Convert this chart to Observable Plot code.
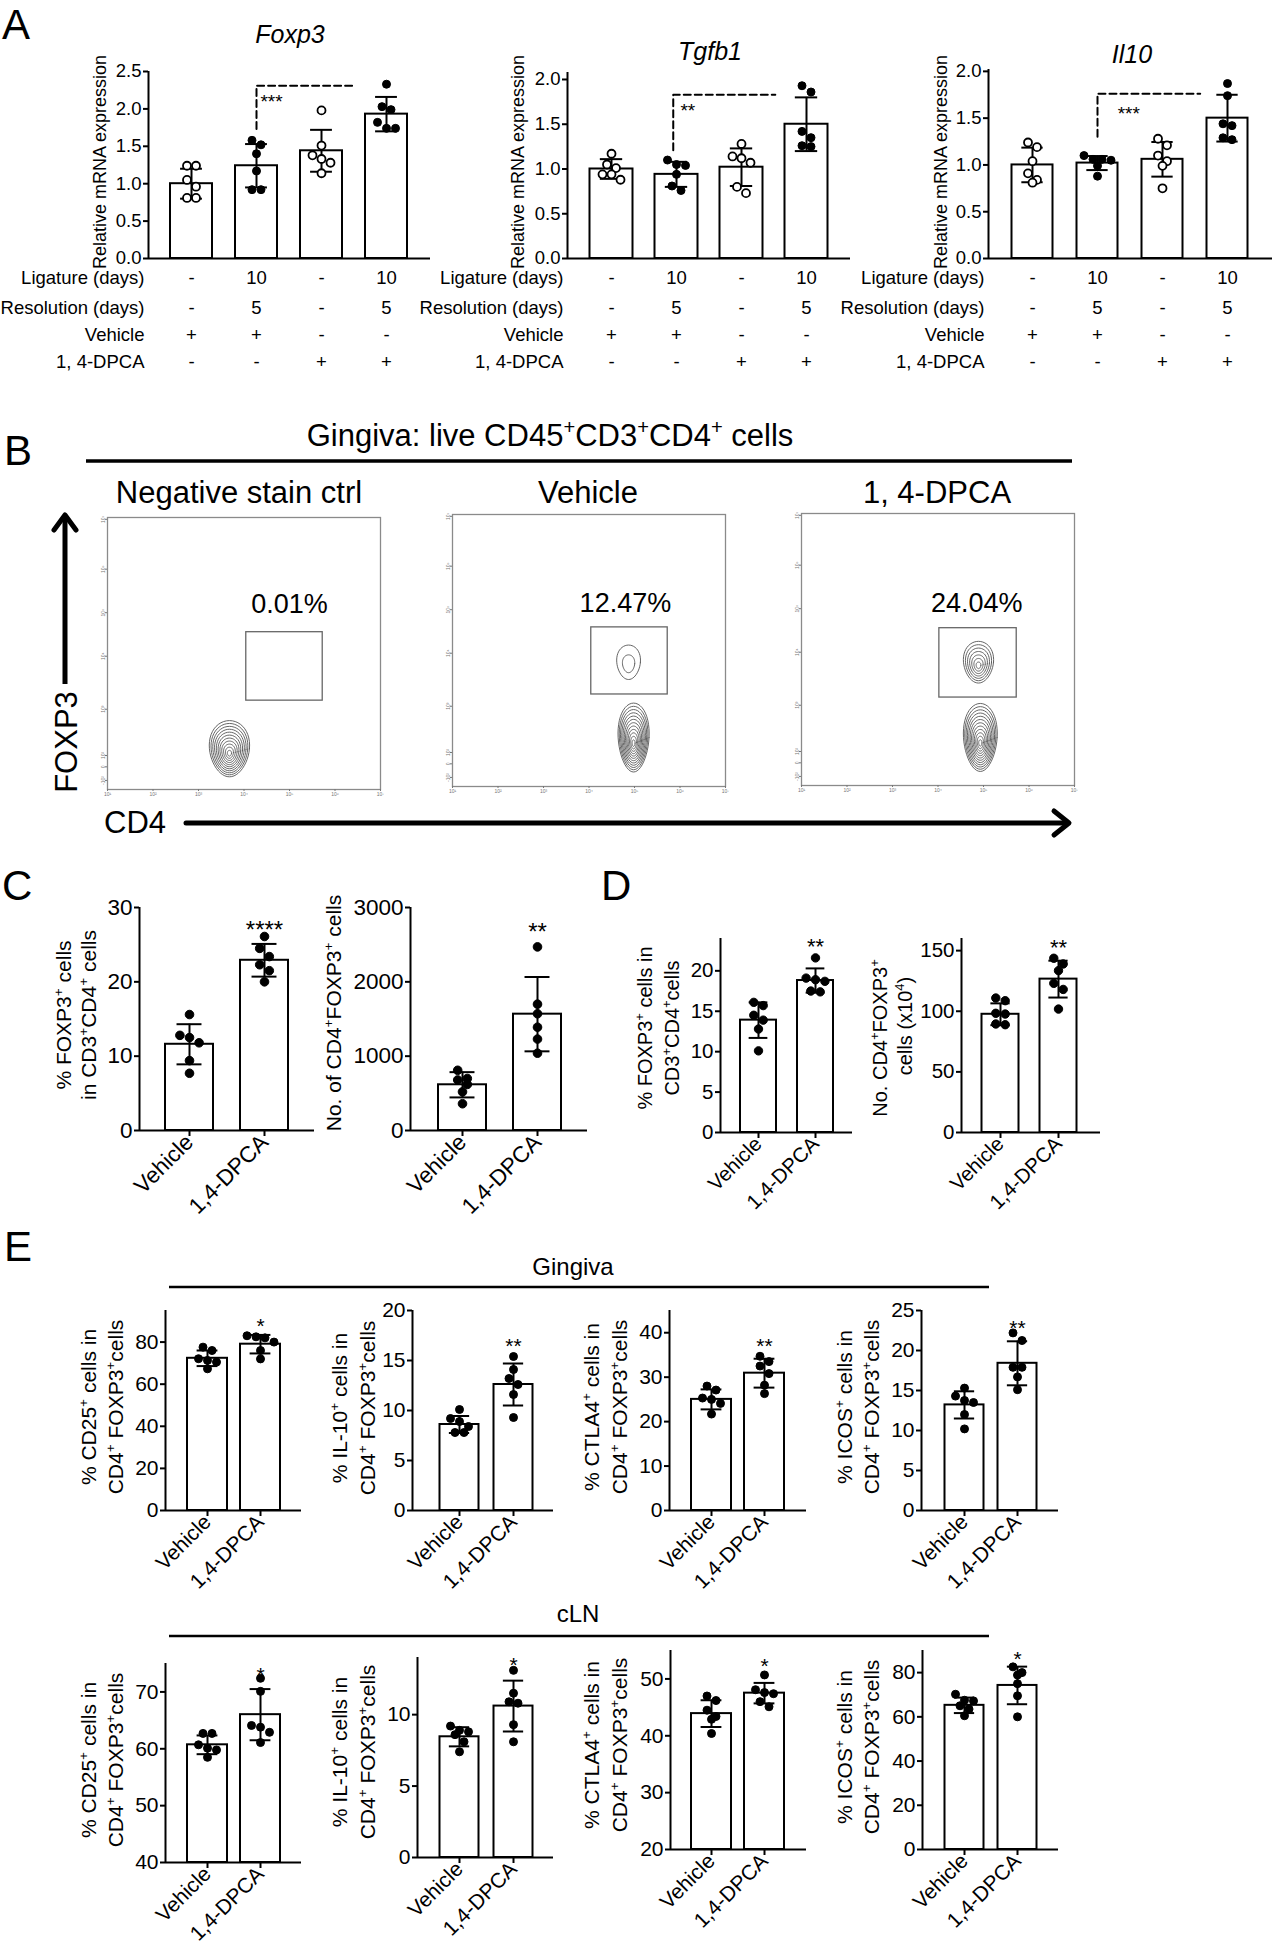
<!DOCTYPE html>
<html><head><meta charset="utf-8">
<script src="https://cdn.jsdelivr.net/npm/d3@7"></script>
<script src="https://cdn.jsdelivr.net/npm/@observablehq/plot@0.6"></script>
<style>
body{margin:0;background:#fff;}
#page{position:relative;width:1275px;height:1950px;overflow:hidden;background:#fff;}
</style></head><body><div id="page"></div><script>
const FONT = "'Liberation Sans', Arial, Helvetica, sans-serif";

// ---------- Panel A data ----------
const openA = [true, false, true, false];
const ligatureDays = ["-", "10", "-", "10"];
const resolutionDays = ["-", "5", "-", "5"];
const vehicleGiven = ["+", "+", "-", "-"];
const dpcaGiven = ["-", "-", "+", "+"];
const rowLabelsA = ["Ligature (days)", "Resolution (days)", "Vehicle", "1, 4-DPCA"];
const geneTitles = ["Foxp3", "Tgfb1", "Il10"];

const foxp3Mean = [1.00, 1.24, 1.44, 1.93];
const foxp3SD = [0.20, 0.29, 0.28, 0.23];
const foxp3Pts = [[1.24,1.24,1.05,0.96,0.81,0.81],[1.58,1.52,1.40,1.17,0.92,0.92],[1.98,1.51,1.38,1.33,1.28,1.14],[2.33,2.03,1.99,1.82,1.74,1.74]];
const tgfb1Mean = [1.00, 0.94, 1.02, 1.50];
const tgfb1SD = [0.11, 0.14, 0.21, 0.30];
const tgfb1Pts = [[1.17,1.05,1.01,0.94,0.94,0.88],[1.10,1.05,1.04,0.94,0.81,0.76],[1.28,1.14,1.12,1.07,0.80,0.73],[1.93,1.86,1.42,1.35,1.26,1.25]];
const il10Mean = [1.00, 1.02, 1.06, 1.50];
const il10SD = [0.185, 0.075, 0.185, 0.25];
const il10Pts = [[1.24,1.19,1.04,0.91,0.84,0.81],[1.10,1.06,1.06,1.05,0.99,0.88],[1.28,1.21,1.10,1.04,0.99,0.75],[1.87,1.74,1.44,1.42,1.29,1.27]];
// bracket: [x from, x to, y low, y high], star label [text, x, y]
const foxp3Bracket = [1, 2.48, 1.73, 2.31], foxp3Star = ["***", 1.06, 2.13];
const tgfb1Bracket = [0.95, 2.52, 1.21, 1.83], tgfb1Star = ["**", 1.06, 1.68];
const il10Bracket = [1, 2.58, 1.30, 1.76], il10Star = ["***", 1.31, 1.58];

// ---------- Panel B data ----------
const flowTitles = ["Negative stain ctrl", "Vehicle", "1, 4-DPCA"];
const flowPct = ["0.01%", "12.47%", "24.04%"];
const flowPctPos = [[5.0, 3.9], [4.8, 3.86], [4.85, 3.82]];
const flowGates = [[4.05, 5.73, 1.96, 3.47], [4.05, 5.73, 2.03, 3.51], [4.03, 5.73, 1.94, 3.47]];
const flowPops = [
  [{cx: 3.68, cy: 0.90, rx: 0.44, ry: 0.62, n: 11}],
  [{cx: 4.87, cy: 2.74, rx: 0.26, ry: 0.38, n: 2}, {cx: 4.98, cy: 1.08, rx: 0.34, ry: 0.76, n: 12}],
  [{cx: 4.89, cy: 2.72, rx: 0.33, ry: 0.46, n: 7}, {cx: 4.93, cy: 1.06, rx: 0.37, ry: 0.75, n: 12}]
];
const flowXTicks = [1, 2, 3, 4, 5, 6, 7];
const flowYTicks = [0.2, 0.5, 0.75, 1.77, 2.94, 3.9, 4.86, 5.96];
const flowYTickLabels = ["-10²", "0", "10²", "10³", "10⁴", "10⁵", "10⁶", "10⁷"];

// ---------- Panels C-E data ----------
const groups2 = ["Vehicle", "1,4-DPCA"];
const c1Mean = [11.6, 22.9], c1SD = [2.7, 2.2];
const c1Pts = [[15.6,12.8,12.5,11.8,9.4,7.7],[26.1,24.5,23.4,22.3,21.5,20.0]];
const c2Mean = [615, 1565], c2SD = [170, 500];
const c2Pts = [[810,700,680,620,520,360],[2470,1700,1570,1390,1230,1040]];
const d1Mean = [13.9, 18.8], d1SD = [2.2, 1.5];
const d1Pts = [[16.1,15.7,14.5,13.9,12.8,10.1],[21.6,19.1,18.9,18.7,17.5,17.4]];
const d2Mean = [97.5, 126.5], d2SD = [9.0, 15.2];
const d2Pts = [[110.9,108.7,98.3,97.7,89.5,88.9],[143.7,139,133.5,123,118,101.8]];
const e1Mean = [72.3, 79.0], e1SD = [3.7, 4.4];
const e1Pts = [[77.6,76.0,72.1,71.3,70.5,67.3],[83.0,82.5,82.0,80.0,76.0,72.0]];
const e2Mean = [8.6, 12.6], e2SD = [0.85, 2.1];
const e2Pts = [[10.1,9.2,8.9,8.4,7.8,7.8],[15.4,14.1,13.2,12.6,11.6,9.3]];
const e3Mean = [25.0, 30.9], e3SD = [2.25, 3.25];
const e3Pts = [[28.0,27.1,25.3,25.0,24.1,21.7],[34.7,33.5,32.5,30.8,28.2,26.3]];
const e4Mean = [13.2, 18.4], e4SD = [1.7, 2.75];
const e4Pts = [[15.3,14.3,13.75,13.5,12.0,10.2],[22.2,21.25,17.9,17.9,16.7,15.1]];
const e5Mean = [60.7, 66.0], e5SD = [1.65, 4.5];
const e5Pts = [[62.7,62.7,60.7,60.1,59.8,58.5],[72.4,70.1,64.1,63.8,62.9,61.1]];
const e6Mean = [8.45, 10.6], e6SD = [0.67, 1.78];
const e6Pts = [[9.2,8.9,8.8,8.6,8.1,7.4],[13.1,11.5,10.9,10.8,9.3,8.1]];
const e7Mean = [43.9, 47.5], e7SD = [2.35, 1.8];
const e7Pts = [[47.0,46.2,44.5,43.4,42.9,40.4],[50.7,48.1,47.6,47.4,46.0,45.1]];
const e8Mean = [65.2, 74.2], e8SD = [3.5, 8.5];
const e8Pts = [[70.2,67.5,67.2,65.0,63.5,60.5],[82.6,80.0,78.9,75.0,69.5,60.0]];
const starsCDE = ["****", "**", "**", "**", "*", "**", "**", "**", "*", "*", "*", "*"];
const starYCDE = [27.8, 2754, 23.7, 157, 90.3, 17, 38.3, 23.5, 74.0, 13.9, 53.2, 88.6];

// ---------- helpers ----------
const page = document.getElementById("page");
function place(svg, left, top) {
  svg.style.position = "absolute";
  svg.style.left = left + "px";
  svg.style.top = top + "px";
  page.appendChild(svg);
}
const pstyle = fs => ({fontFamily: FONT, fontSize: fs + "px", color: "black", background: "transparent", overflow: "visible"});

function barChart(c) {
  const mL = 80, mR = 10, mT = 45, mB = 125;
  const innerW = c.xEnd - c.x0, innerH = c.yB - c.yT;
  const xDom = [(c.x0 - c.c0) / c.step, (c.xEnd - c.c0) / c.step];
  const pxY = innerH / (c.yDomain[1] - c.yDomain[0]);
  const hw = c.barW / 2 / c.step, cap = c.barW * 0.26 / c.step;
  const bars = c.means.map((m, i) => ({i, m, lo: m - c.sds[i], hi: m + c.sds[i]}));
  const dots = [];
  c.pts.forEach((arr, i) => {
    const sorted = [...arr].sort((a, b) => b - a);
    const rows = [];
    for (const v of sorted) {
      const row = rows[rows.length - 1];
      if (row && (row[0] - v) * pxY < 2 * c.r) row.push(v); else rows.push([v]);
    }
    const s = (2 * c.r + 1) / c.step;
    rows.forEach(row => row.forEach((v, k) => dots.push({x: i + (k - (row.length - 1) / 2) * s, y: v, open: c.open ? c.open[i] : false})));
  });
  const marks = [
    Plot.rect(bars, {x1: d => d.i - hw, x2: d => d.i + hw, y1: c.yDomain[0], y2: "m", fill: "white", stroke: "black", strokeWidth: 2}),
    Plot.ruleX(bars, {x: "i", y1: "lo", y2: "hi", stroke: "black", strokeWidth: 2}),
    Plot.ruleY(bars, {x1: d => d.i - cap, x2: d => d.i + cap, y: "hi", stroke: "black", strokeWidth: 2}),
    Plot.ruleY(bars, {x1: d => d.i - cap, x2: d => d.i + cap, y: "lo", stroke: "black", strokeWidth: 2}),
    Plot.dot(dots.filter(d => !d.open), {x: "x", y: "y", r: c.r, fill: "black", stroke: "black", strokeWidth: 1}),
    Plot.dot(dots.filter(d => d.open), {x: "x", y: "y", r: c.r, fill: "white", stroke: "black", strokeWidth: 1.8}),
    Plot.ruleX([xDom[0]], {stroke: "black", strokeWidth: 2}),
    Plot.ruleY([c.yDomain[0]], {stroke: "black", strokeWidth: 2}),
    Plot.axisY({ticks: c.yTicks, tickFormat: c.tickFormat || (d => String(d)), tickSize: 5, tickPadding: 2, strokeWidth: 2, label: null})
  ];
  if (c.xLabels) {
    marks.push(Plot.axisX({ticks: [0, 1], tickFormat: i => groups2[i], tickRotate: -45, tickSize: 6, tickPadding: 2, strokeWidth: 2, label: null, fontSize: c.xfs || c.fs}));
  }
  if (c.star) {
    marks.push(Plot.text([c.star], {x: d => d.x, y: d => d.y, text: d => d.t, fontSize: c.starFs, textAnchor: c.starAnchor || "middle", dy: c.starFs * 0.28}));
  }
  if (c.extra) marks.push(...c.extra);
  const svg = Plot.plot({
    width: mL + innerW + mR, height: mT + innerH + mB,
    marginLeft: mL, marginRight: mR, marginTop: mT, marginBottom: mB,
    x: c.xLabels ? {domain: xDom} : {domain: xDom, axis: null},
    y: {domain: c.yDomain, axis: null},
    style: pstyle(c.fs),
    marks
  });
  place(svg, c.x0 - mL, c.yT - mT);
}

// Panel A extras: significance bracket + condition rows
function geneExtras(bracket, star, yMin) {
  const fs = 18.5;
  const rowsA = [ligatureDays, resolutionDays, vehicleGiven, dpcaGiven];
  const rowDy = [25, 55, 82, 109].map(b => b - 0.32 * fs);
  const ex = [
    Plot.line([{x: bracket[0], y: bracket[2]}, {x: bracket[0], y: bracket[3]}, {x: bracket[1], y: bracket[3]}],
      {x: "x", y: "y", stroke: "black", strokeWidth: 2, strokeDasharray: "7,4"}),
    Plot.text([star], {x: d => d[1], y: d => d[2], text: d => d[0], fontSize: 19, textAnchor: "start", dy: 3})
  ];
  rowsA.forEach((row, r) => {
    ex.push(Plot.text(row, {x: (d, i) => i, y: yMin, dy: rowDy[r], text: d => d, fontSize: fs}));
    ex.push(Plot.text([rowLabelsA[r]], {frameAnchor: "left", y: yMin, dx: -4, dy: rowDy[r], text: d => d, fontSize: fs, textAnchor: "end"}));
  });
  return ex;
}

const tickA = d3.format(".1f");
barChart({means: foxp3Mean, sds: foxp3SD, pts: foxp3Pts, open: openA, x0: 148, yB: 258, yT: 71, yDomain: [0, 2.5], yTicks: [0, 0.5, 1, 1.5, 2, 2.5], tickFormat: tickA,
  c0: 191, step: 65, barW: 42, xEnd: 430, r: 4, fs: 18.5, extra: geneExtras(foxp3Bracket, foxp3Star, 0)});
barChart({means: tgfb1Mean, sds: tgfb1SD, pts: tgfb1Pts, open: openA, x0: 567, yB: 258, yT: 72, yDomain: [0, 2.078], yTicks: [0, 0.5, 1, 1.5, 2], tickFormat: tickA,
  c0: 611, step: 65, barW: 43, xEnd: 850, r: 4, fs: 18.5, extra: geneExtras(tgfb1Bracket, tgfb1Star, 0)});
barChart({means: il10Mean, sds: il10SD, pts: il10Pts, open: openA, x0: 988, yB: 258, yT: 69, yDomain: [0, 2.02], yTicks: [0, 0.5, 1, 1.5, 2], tickFormat: tickA,
  c0: 1032, step: 65, barW: 41, xEnd: 1272, r: 4, fs: 18.5, extra: geneExtras(il10Bracket, il10Star, 0)});

// Panels C, D, E
const cdeCharts = [
  {means: c1Mean, sds: c1SD, pts: c1Pts, x0: 139, yB: 1130, yT: 907, yDomain: [0, 30], yTicks: [0, 10, 20, 30], c0: 189, step: 75, barW: 48, xEnd: 314, r: 4.3, fs: 22.5, starFs: 24},
  {means: c2Mean, sds: c2SD, pts: c2Pts, x0: 410, yB: 1130, yT: 907, yDomain: [0, 3000], yTicks: [0, 1000, 2000, 3000], c0: 462, step: 75, barW: 48, xEnd: 587, r: 4.3, fs: 22.5, starFs: 24},
  {means: d1Mean, sds: d1SD, pts: d1Pts, x0: 720, yB: 1132, yT: 938, yDomain: [0, 24], yTicks: [0, 5, 10, 15, 20], c0: 758, step: 57, barW: 36, xEnd: 852, r: 4.2, fs: 20.5, starFs: 22},
  {means: d2Mean, sds: d2SD, pts: d2Pts, x0: 961, yB: 1132, yT: 938, yDomain: [0, 160], yTicks: [0, 50, 100, 150], c0: 1000, step: 58, barW: 37, xEnd: 1100, r: 4.2, fs: 20.5, starFs: 22},
  {means: e1Mean, sds: e1SD, pts: e1Pts, x0: 165, yB: 1510, yT: 1310, yDomain: [0, 95], yTicks: [0, 20, 40, 60, 80], c0: 207, step: 53, barW: 40, xEnd: 301, r: 4, fs: 21, starFs: 21},
  {means: e2Mean, sds: e2SD, pts: e2Pts, x0: 412, yB: 1510, yT: 1310, yDomain: [0, 20], yTicks: [0, 5, 10, 15, 20], c0: 459, step: 54, barW: 39, xEnd: 553, r: 4, fs: 21, starFs: 21},
  {means: e3Mean, sds: e3SD, pts: e3Pts, x0: 669, yB: 1510, yT: 1310, yDomain: [0, 45], yTicks: [0, 10, 20, 30, 40], c0: 711, step: 53, barW: 40, xEnd: 806, r: 4, fs: 21, starFs: 21},
  {means: e4Mean, sds: e4SD, pts: e4Pts, x0: 921, yB: 1510, yT: 1310, yDomain: [0, 25], yTicks: [0, 5, 10, 15, 20, 25], c0: 964, step: 53, barW: 39, xEnd: 1058, r: 4, fs: 21, starFs: 21},
  {means: e5Mean, sds: e5SD, pts: e5Pts, x0: 165, yB: 1862, yT: 1663, yDomain: [40, 75], yTicks: [40, 50, 60, 70], c0: 207, step: 53, barW: 40, xEnd: 301, r: 4, fs: 21, starFs: 21},
  {means: e6Mean, sds: e6SD, pts: e6Pts, x0: 417, yB: 1857, yT: 1657, yDomain: [0, 14], yTicks: [0, 5, 10], c0: 459, step: 54, barW: 39, xEnd: 553, r: 4, fs: 21, starFs: 21},
  {means: e7Mean, sds: e7SD, pts: e7Pts, x0: 670, yB: 1849, yT: 1650, yDomain: [20, 55], yTicks: [20, 30, 40, 50], c0: 711, step: 53, barW: 40, xEnd: 806, r: 4, fs: 21, starFs: 21},
  {means: e8Mean, sds: e8SD, pts: e8Pts, x0: 922, yB: 1849, yT: 1650, yDomain: [0, 90], yTicks: [0, 20, 40, 60, 80], c0: 964, step: 53, barW: 39, xEnd: 1058, r: 4, fs: 21, starFs: 21}
];
cdeCharts.forEach((c, k) => {
  c.xLabels = true;
  c.star = {x: 1, y: starYCDE[k], t: starsCDE[k]};
  barChart(c);
});

// Panel B flow plots
const flowBoxes = [[107, 517], [452, 514], [801, 513]];
flowBoxes.forEach(([left, top], i) => {
  const W = 273, H = 272, mL = 16, mR = 6, mT = 4, mB = 14;
  const rings = [];
  flowPops[i].forEach((p, pi) => {
    for (let k = 1; k <= p.n; k++) {
      const s = Math.pow(k / p.n, 0.95);
      const cy = p.cy - p.ry * (1 - s) * 0.18;
      for (let j = 0; j <= 48; j++) {
        const t = 2 * Math.PI * j / 48;
        const wid = p.rx * s * (1 + 0.12 * Math.sin(t));
        rings.push({ring: pi * 100 + k, x: p.cx + wid * Math.cos(t), y: cy + p.ry * s * Math.sin(t)});
      }
    }
  });
  const g = flowGates[i];
  const svg = Plot.plot({
    width: W + mL + mR, height: H + mT + mB, marginLeft: mL, marginRight: mR, marginTop: mT, marginBottom: mB,
    x: {domain: [1, 7], axis: null}, y: {domain: [0, 6], axis: null},
    style: pstyle(5),
    marks: [
      Plot.frame({stroke: "#8a8a8a", strokeWidth: 1.3}),
      Plot.axisX({ticks: flowXTicks, tickFormat: d => "10" + "⁰¹²³⁴⁵⁶⁷"[d], tickSize: 2, tickPadding: 1, fontSize: 5, color: "#777", label: null}),
      Plot.axisY({ticks: flowYTicks, tickFormat: (d, j) => flowYTickLabels[j], tickSize: 2, tickPadding: 1, fontSize: 5, color: "#777", label: null, tickRotate: -90}),
      Plot.rect([g], {x1: d => d[0], x2: d => d[1], y1: d => d[2], y2: d => d[3], fill: "none", stroke: "#666", strokeWidth: 1.3}),
      Plot.line(rings, {x: "x", y: "y", z: "ring", stroke: "#555", strokeWidth: 0.9}),
      Plot.text([flowPct[i]], {x: flowPctPos[i][0], y: flowPctPos[i][1], text: d => d, fontSize: 27, dy: -8.6, fill: "black"})
    ]
  });
  place(svg, left - mL, top - mT);
});

// ---------- overlay text ----------
const ov = d3.select(page).append("svg").attr("width", 1275).attr("height", 1950)
  .style("position", "absolute").style("left", "0px").style("top", "0px").style("font-family", FONT);

function rich(sel, str, fs) {
  const parts = str.split(/(\{[^}]*\})/).filter(s => s.length);
  let shifted = false;
  for (const p of parts) {
    if (p.startsWith("{")) {
      sel.append("tspan").attr("font-size", fs * 0.65).attr("dy", -fs * 0.38).text(p.slice(1, -1));
      shifted = true;
    } else {
      const t = sel.append("tspan").text(p);
      if (shifted) { t.attr("dy", fs * 0.38); shifted = false; }
    }
  }
}
function label(str, x, y, fs, anchor = "middle", italic = false) {
  const t = ov.append("text").attr("x", x).attr("y", y).attr("font-size", fs).attr("text-anchor", anchor).attr("fill", "black");
  if (italic) t.attr("font-style", "italic");
  rich(t, str, fs);
}
function rotLabel(lines, xs, cys, fs) {
  lines.forEach((ln, k) => {
    const cy = Array.isArray(cys) ? cys[k] : cys;
    const t = ov.append("text").attr("transform", `translate(${xs[k] + 0.35 * fs},${cy}) rotate(-90)`)
      .attr("font-size", fs).attr("text-anchor", "middle").attr("fill", "black");
    rich(t, ln, fs);
  });
}

// panel letters
[["A", 2, 39], ["B", 4, 465], ["C", 2, 900], ["D", 601, 900], ["E", 4, 1261]].forEach(([t, x, y]) => label(t, x, y, 42, "start"));

// Panel A titles + y labels
label(geneTitles[0], 290, 43, 25, "middle", true);
label(geneTitles[1], 710, 60, 25, "middle", true);
label(geneTitles[2], 1132, 63, 25, "middle", true);
[100, 518, 941].forEach(x => rotLabel(["Relative mRNA expression"], [x], 162, 18));

// Panel B text + arrows
label("Gingiva: live CD45{+}CD3{+}CD4{+} cells", 550, 446, 31);
ov.append("line").attr("x1", 86).attr("x2", 1072).attr("y1", 461).attr("y2", 461).attr("stroke", "black").attr("stroke-width", 3.5);
label(flowTitles[0], 239, 503, 31);
label(flowTitles[1], 588, 503, 31);
label(flowTitles[2], 937, 503, 31);
rotLabel(["FOXP3"], [66], 742, 31);
label("CD4", 104, 833, 31, "start");
ov.append("line").attr("x1", 65).attr("x2", 65).attr("y1", 684).attr("y2", 516).attr("stroke", "black").attr("stroke-width", 5);
ov.append("polyline").attr("points", "54,530 65,515 76,530").attr("fill", "none").attr("stroke", "black").attr("stroke-width", 5).attr("stroke-linecap", "round").attr("stroke-linejoin", "round");
ov.append("line").attr("x1", 186).attr("x2", 1066).attr("y1", 823).attr("y2", 823).attr("stroke", "black").attr("stroke-width", 5).attr("stroke-linecap", "round");
ov.append("polyline").attr("points", "1054,811 1069,823 1054,835").attr("fill", "none").attr("stroke", "black").attr("stroke-width", 5).attr("stroke-linecap", "round").attr("stroke-linejoin", "round");

// Panel C/D y labels
rotLabel(["% FOXP3{+} cells", "in CD3{+}CD4{+} cells"], [64, 89], 1015, 21);
rotLabel(["No. of CD4{+}FOXP3{+} cells"], [334], 1013, 21);
rotLabel(["% FOXP3{+} cells in", "CD3{+}CD4{+}cells"], [645, 672], 1028, 20);
rotLabel(["No. CD4{+}FOXP3{+}", "cells  (x10{4})"], [880, 905], [1038, 1026], 20);

// Panel E headers
label("Gingiva", 573, 1275, 24);
ov.append("line").attr("x1", 169).attr("x2", 989).attr("y1", 1287).attr("y2", 1287).attr("stroke", "black").attr("stroke-width", 2.5);
label("cLN", 578, 1622, 24);
ov.append("line").attr("x1", 169).attr("x2", 989).attr("y1", 1636).attr("y2", 1636).attr("stroke", "black").attr("stroke-width", 2.5);

const markersE = ["CD25", "IL-10", "CTLA4", "ICOS"];
const eLabelX = [[89, 116], [340, 368], [592, 620], [845, 872]];
const eRow1Y = [1407, 1408, 1407, 1407];
const eRow2Y = [1760, 1752, 1745, 1747];
markersE.forEach((m, k) => {
  const lines = [`% ${m}{+} cells in`, "CD4{+} FOXP3{+}cells"];
  rotLabel(lines, eLabelX[k], eRow1Y[k], 21);
  rotLabel(lines, eLabelX[k], eRow2Y[k], 21);
});
</script></body></html>
